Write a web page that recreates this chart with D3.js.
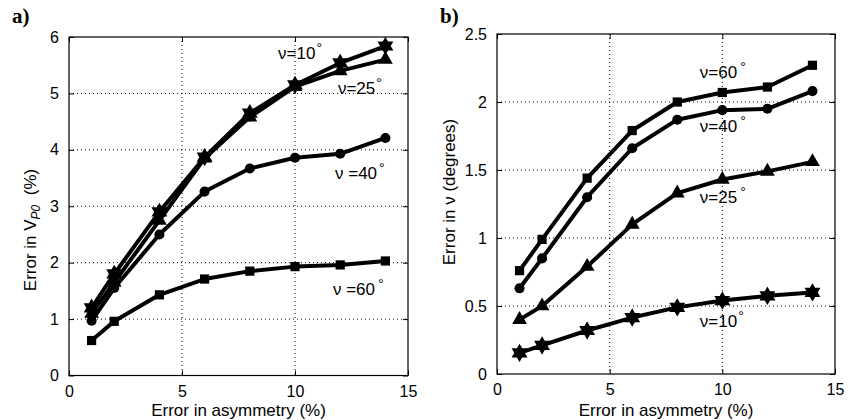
<!DOCTYPE html>
<html>
<head>
<meta charset="utf-8">
<script src="https://cdn.jsdelivr.net/npm/d3@7"></script>
<style>
body { margin: 0; background: #fff; }
text { fill: #000; }
</style>
</head>
<body>
<div id="chart"></div>
<script>
// x values shared by both panels
var asym = [1, 2, 4, 6, 8, 10, 12, 14];

// panel a: error in VP0 (%)
var vp0_10 = [1.2, 1.8, 2.9, 3.87, 4.65, 5.15, 5.54, 5.84];
var vp0_25 = [1.1, 1.65, 2.75, 3.85, 4.58, 5.12, 5.4, 5.6];
var vp0_40 = [0.97, 1.55, 2.5, 3.26, 3.67, 3.86, 3.93, 4.21];
var vp0_60 = [0.62, 0.96, 1.43, 1.71, 1.85, 1.93, 1.96, 2.03];

// panel b: error in nu (degrees)
var nu_60 = [0.76, 0.99, 1.44, 1.79, 2.0, 2.07, 2.11, 2.27];
var nu_40 = [0.63, 0.85, 1.30, 1.66, 1.87, 1.94, 1.95, 2.08];
var nu_25 = [0.40, 0.50, 0.79, 1.10, 1.33, 1.43, 1.49, 1.56];
var nu_10 = [0.155, 0.21, 0.32, 0.415, 0.49, 0.54, 0.575, 0.60];

var xTicks = [0, 5, 10, 15];
var yTicksA = [0, 1, 2, 3, 4, 5, 6];
var yTicksB = [0, 0.5, 1, 1.5, 2, 2.5];

var W = 858, H = 420;
var SANS = "'Liberation Sans', Arial, sans-serif";

var svg = d3.select("#chart").append("svg")
  .attr("width", W)
  .attr("height", H)
  .style("font-family", SANS);

// six pointed star like matlab hexagram
var hexagram = {
  draw: function(ctx, size) {
    var r = Math.sqrt(size) * 0.75, ri = r / Math.sqrt(3);
    for (var i = 0; i < 12; i++) {
      var a = i * Math.PI / 6 - Math.PI / 2;
      var rr = i % 2 ? ri : r;
      if (i == 0) ctx.moveTo(rr * Math.cos(a), rr * Math.sin(a));
      else ctx.lineTo(rr * Math.cos(a), rr * Math.sin(a));
    }
    ctx.closePath();
  }
};

var marks = {
  star: d3.symbol().type(hexagram).size(150),
  tri: d3.symbol().type(d3.symbolTriangle).size(95),
  circle: d3.symbol().type(d3.symbolCircle).size(80),
  square: d3.symbol().type(d3.symbolSquare).size(85)
};

function panel(opt) {
  var x = d3.scaleLinear().domain([0, 15]).range([opt.left, opt.right]);
  var y = d3.scaleLinear().domain(opt.ydom).range([opt.bottom, opt.top]);
  var g = svg.append("g");

  // dotted grid
  g.selectAll(".vg").data(xTicks.slice(1, -1)).enter().append("line")
    .attr("x1", d => x(d)).attr("x2", d => x(d))
    .attr("y1", opt.top).attr("y2", opt.bottom)
    .attr("stroke", "#000").attr("stroke-width", 1).attr("stroke-dasharray", "1,3");
  g.selectAll(".hg").data(opt.yticks.slice(1, -1)).enter().append("line")
    .attr("y1", d => y(d)).attr("y2", d => y(d))
    .attr("x1", opt.left).attr("x2", opt.right)
    .attr("stroke", "#000").attr("stroke-width", 1).attr("stroke-dasharray", "1,3");

  // axes with inward ticks
  g.append("g").attr("transform", "translate(0," + opt.bottom + ")")
    .call(d3.axisBottom(x).tickValues(xTicks).tickSizeInner(-5).tickSizeOuter(0).tickPadding(10))
    .call(a => a.selectAll("text").attr("font-size", 16).style("font-family", SANS));
  g.append("g").attr("transform", "translate(0," + opt.top + ")")
    .call(d3.axisTop(x).tickValues(xTicks).tickSizeInner(-5).tickSizeOuter(0).tickFormat(""));
  g.append("g").attr("transform", "translate(" + opt.left + ",0)")
    .call(d3.axisLeft(y).tickValues(opt.yticks).tickSizeInner(-5).tickSizeOuter(0).tickPadding(10).tickFormat(d => String(d)))
    .call(a => a.selectAll("text").attr("font-size", 16).style("font-family", SANS));
  g.append("g").attr("transform", "translate(" + opt.right + ",0)")
    .call(d3.axisRight(y).tickValues(opt.yticks).tickSizeInner(-5).tickSizeOuter(0).tickFormat(""));
  g.selectAll(".domain").remove();
  g.selectAll(".tick line").attr("stroke", "#000");

  // box
  g.append("rect")
    .attr("x", opt.left).attr("y", opt.top)
    .attr("width", opt.right - opt.left).attr("height", opt.bottom - opt.top)
    .attr("fill", "none").attr("stroke", "#000").attr("stroke-width", 1.2);

  var line = d3.line().x(d => x(d[0])).y(d => y(d[1]));

  opt.series.forEach(function(s) {
    var pts = asym.map((v, i) => [v, s.vals[i]]);
    g.append("path").datum(pts)
      .attr("d", line)
      .attr("fill", "none").attr("stroke", "#000")
      .attr("stroke-width", 4).attr("stroke-linejoin", "round");
    g.selectAll(null).data(pts).enter().append("path")
      .attr("transform", d => "translate(" + x(d[0]) + "," + y(d[1]) + ")")
      .attr("d", marks[s.mark])
      .attr("fill", "#000");
    // curve label
    var t = g.append("text")
      .attr("x", x(s.lab[0])).attr("y", y(s.lab[1]))
      .attr("dy", "0.35em")
      .attr("font-size", 17);
    t.append("tspan").text(s.text);
    t.append("tspan").attr("dx", s.gap).attr("dy", -6).attr("font-size", 14).text("°");
  });

  // panel letter
  svg.append("text")
    .attr("x", opt.left - 57).attr("y", 23)
    .style("font-family", "'Liberation Serif', 'Times New Roman', serif")
    .attr("font-weight", "bold").attr("font-size", 21)
    .text(opt.letter);

  // x label
  svg.append("text")
    .attr("x", (opt.left + opt.right) / 2).attr("y", 416)
    .attr("text-anchor", "middle").attr("font-size", 17)
    .text("Error in asymmetry (%)");

  return { x: x, y: y };
}

panel({
  left: 69, right: 408, top: 37, bottom: 375.5,
  ydom: [0, 6], yticks: yTicksA, letter: "a)",
  series: [
    { vals: vp0_10, mark: "star", text: "ν=10", gap: 1, lab: [9.25, 5.72] },
    { vals: vp0_25, mark: "tri", text: "ν=25", gap: 1, lab: [11.9, 5.1] },
    { vals: vp0_40, mark: "circle", text: "ν =40", gap: 2, lab: [11.77, 3.59] },
    { vals: vp0_60, mark: "square", text: "ν =60", gap: 3, lab: [11.68, 1.54] }
  ]
});

panel({
  left: 497, right: 835, top: 34, bottom: 374,
  ydom: [0, 2.5], yticks: yTicksB, letter: "b)",
  series: [
    { vals: nu_60, mark: "square", text: "ν=60", gap: 3, lab: [9.0, 2.22] },
    { vals: nu_40, mark: "circle", text: "ν=40", gap: 3, lab: [9.0, 1.82] },
    { vals: nu_25, mark: "tri", text: "ν=25", gap: 3, lab: [9.0, 1.30] },
    { vals: nu_10, mark: "star", text: "ν=10", gap: 1, lab: [9.0, 0.39] }
  ]
});

// y labels
var ya = svg.append("text")
  .attr("transform", "translate(36,230) rotate(-90)")
  .attr("text-anchor", "middle").attr("font-size", 17);
ya.append("tspan").text("Error in V");
ya.append("tspan").attr("font-style", "italic").attr("font-size", 12).attr("dy", 4).text("P0");
ya.append("tspan").attr("dy", -4).attr("xml:space", "preserve").text("  (%)");

svg.append("text")
  .attr("transform", "translate(455,192) rotate(-90)")
  .attr("text-anchor", "middle").attr("font-size", 17)
  .text("Error in ν (degrees)");
</script>
</body>
</html>
